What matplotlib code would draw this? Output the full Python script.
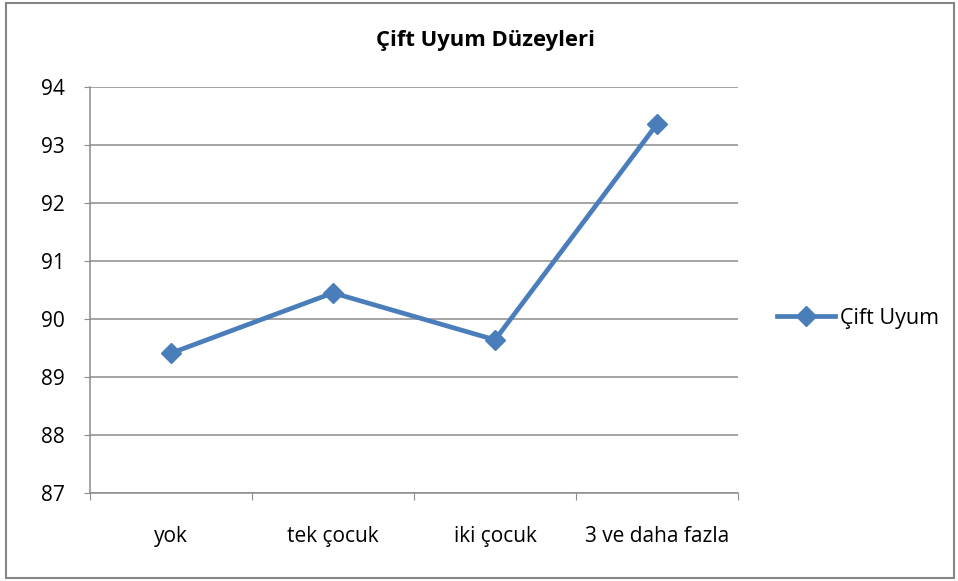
import matplotlib
matplotlib.use('Agg')
import matplotlib.pyplot as plt
from matplotlib.patches import Rectangle

categories = ['yok', 'tek çocuk', 'iki çocuk', '3 ve daha fazla']
values = [89.41, 90.45, 89.64, 93.36]
series_name = 'Çift Uyum'
title = 'Çift Uyum Düzeyleri'

plt.rcParams['font.family'] = ['Open Sans', 'DejaVu Sans']
line_col = '#4a7ebb'
grid_col = '#8c8c8c'
fs = 15

fig = plt.figure(figsize=(9.58, 5.81), dpi=100)
ax = fig.add_axes([0.0939, 0.1515, 0.6765, 0.6988])

x = list(range(len(categories)))
ax.plot(x, values, color=line_col, lw=3.4, marker='D', ms=10.5,
        label=series_name, solid_joinstyle='round')

ax.set_xlim(-0.5, len(categories) - 0.5)
ax.set_ylim(87, 94)
ax.set_yticks(range(87, 95))
ax.yaxis.grid(True, color=grid_col, lw=1.1)
ax.set_axisbelow(True)

# category boundaries as major ticks, labels on minor ticks
ax.set_xticks([i - 0.5 for i in range(len(categories) + 1)])
ax.set_xticklabels([])
ax.set_xticks(x, minor=True)
ax.set_xticklabels(categories, minor=True)
ax.tick_params(axis='x', which='major', length=5, color=grid_col, direction='out')
ax.tick_params(axis='x', which='minor', length=0, pad=24, labelsize=fs)
ax.tick_params(axis='y', length=4, color=grid_col, pad=14, labelsize=fs)

for s in ['top', 'right']:
    ax.spines[s].set_visible(False)
for s in ['left', 'bottom']:
    ax.spines[s].set_color(grid_col)
    ax.spines[s].set_linewidth(1.1)

fig.text(0.507, 0.93, title, ha='center', va='center', fontsize=15.8, fontweight='bold')

fig.legend(loc='center left', bbox_to_anchor=(0.791, 0.452), frameon=False,
           fontsize=15.5, handlelength=2.7, handletextpad=0.2)

fig.patches.append(Rectangle((0.006, 0.005), 0.990, 0.990, transform=fig.transFigure,
                             fill=False, edgecolor='#868686', lw=1.5))

fig.savefig('out.png', dpi=100)
